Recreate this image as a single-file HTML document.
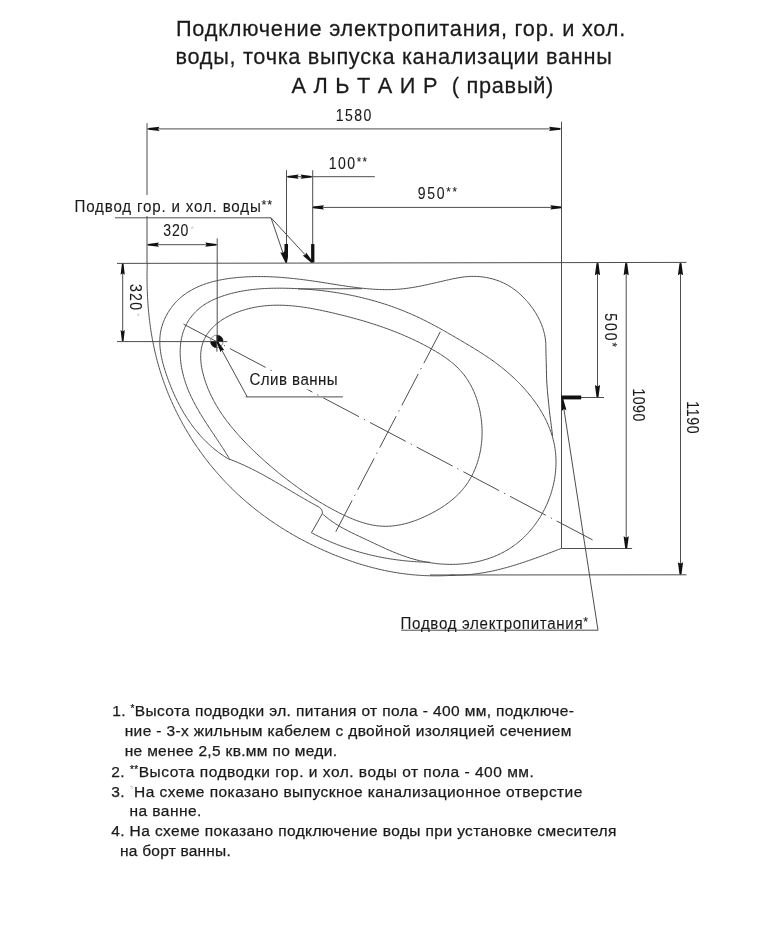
<!DOCTYPE html><html><head><meta charset="utf-8"><style>html,body{margin:0;padding:0;background:#fff;}svg{display:block;will-change:transform;}text{font-family:"Liberation Sans",sans-serif;stroke:#1a1a1a;stroke-width:0.25px;}</style></head><body>
<svg width="772" height="950" viewBox="0 0 772 950">
<rect width="772" height="950" fill="#fff"/>
<text id="t1" x="0" y="0" font-size="22.9" fill="#1a1a1a" textLength="472.98" lengthAdjust="spacing" transform="translate(175.90,35.90) scale(0.95,1)">Подключение электропитания, гор. и хол.</text>
<text id="t2" x="0" y="0" font-size="22.9" fill="#1a1a1a" textLength="459.25" lengthAdjust="spacing" transform="translate(175.50,64.40) scale(0.95,1)">воды, точка выпуска канализации ванны</text>
<text id="t3" x="0" y="0" font-size="22.9" fill="#1a1a1a" textLength="275.53" lengthAdjust="spacing" transform="translate(291.60,92.50) scale(0.95,1)">А Л Ь Т А И Р &#160;( правый)</text>
<line x1="147" y1="123.2" x2="147" y2="195" stroke="#4d4d4d" stroke-width="1" />
<line x1="147" y1="216" x2="147" y2="263" stroke="#4d4d4d" stroke-width="1" />
<line x1="561.5" y1="121.7" x2="561.5" y2="548.5" stroke="#4d4d4d" stroke-width="1" />
<line x1="147" y1="128.9" x2="561.5" y2="128.9" stroke="#4d4d4d" stroke-width="1" />
<polygon points="148.50,128.10 159.50,126.80 158.00,128.90 159.50,131.00 148.50,129.70" fill="#111"/>
<polygon points="560.00,129.70 549.00,131.00 550.50,128.90 549.00,126.80 560.00,128.10" fill="#111"/>
<text id="d1580" style="stroke-width:0.1px" x="0" y="0" font-size="16" fill="#1a1a1a" textLength="40.48" lengthAdjust="spacing" transform="translate(335.80,121.00) scale(0.88,1)">1580</text>
<line x1="286.5" y1="170.2" x2="286.5" y2="263" stroke="#4d4d4d" stroke-width="1" />
<line x1="312.7" y1="170.2" x2="312.7" y2="263" stroke="#4d4d4d" stroke-width="1" />
<line x1="286.5" y1="176.7" x2="374.8" y2="176.7" stroke="#4d4d4d" stroke-width="1" />
<polygon points="287.70,175.90 298.70,174.60 297.20,176.70 298.70,178.80 287.70,177.50" fill="#111"/>
<polygon points="311.50,177.50 300.50,178.80 302.00,176.70 300.50,174.60 311.50,175.90" fill="#111"/>
<text id="d100" style="stroke-width:0.1px" x="0" y="0" font-size="16" fill="#1a1a1a" textLength="43.55" lengthAdjust="spacing" transform="translate(328.70,169.00) scale(0.88,1)">100<tspan font-size='13' dy='-3'>**</tspan></text>
<line x1="312.7" y1="207.4" x2="561.5" y2="207.4" stroke="#4d4d4d" stroke-width="1" />
<polygon points="313.00,206.60 324.00,205.30 322.50,207.40 324.00,209.50 313.00,208.20" fill="#111"/>
<polygon points="561.20,208.20 550.20,209.50 551.70,207.40 550.20,205.30 561.20,206.60" fill="#111"/>
<text id="d950" style="stroke-width:0.1px" x="0" y="0" font-size="16" fill="#1a1a1a" textLength="44.46" lengthAdjust="spacing" transform="translate(417.80,199.00) scale(0.88,1)">950<tspan font-size='13' dy='-3'>**</tspan></text>
<polygon points="284.5,244.1 288,244.1 288,257 287,262.5 285.8,262.5 284.5,256" fill="#111"/>
<rect x="311.1" y="244.1" width="3.3" height="18.2" fill="#111"/>
<text id="podvod" style="stroke-width:0.1px" x="0" y="0" font-size="15.6" fill="#1a1a1a" textLength="203.81" lengthAdjust="spacing" transform="translate(74.50,212.40) scale(0.97,1)">Подвод гор. и хол. воды<tspan font-size='13' dy='-3'>**</tspan></text>
<line x1="115" y1="217.8" x2="271" y2="217.8" stroke="#4d4d4d" stroke-width="1" />
<line x1="271" y1="217.8" x2="286.2" y2="262.4" stroke="#4d4d4d" stroke-width="1" />
<line x1="271" y1="217.8" x2="312.2" y2="262.4" stroke="#4d4d4d" stroke-width="1" />
<polygon points="285.44,262.66 280.31,252.26 282.97,252.93 284.67,250.77 286.96,262.14" fill="#111"/>
<polygon points="311.61,262.94 302.71,255.51 305.41,255.05 306.09,252.39 312.79,261.86" fill="#111"/>
<line x1="217.2" y1="238.3" x2="217.2" y2="342" stroke="#4d4d4d" stroke-width="1" />
<line x1="147" y1="244.7" x2="217.2" y2="244.7" stroke="#4d4d4d" stroke-width="1" />
<polygon points="148.00,243.90 159.00,242.60 157.50,244.70 159.00,246.80 148.00,245.50" fill="#111"/>
<polygon points="216.20,245.50 205.20,246.80 206.70,244.70 205.20,242.60 216.20,243.90" fill="#111"/>
<text id="d320h" style="stroke-width:0.1px" x="0" y="0" font-size="16" fill="#1a1a1a" textLength="28.43" lengthAdjust="spacing" transform="translate(163.30,236.30) scale(0.88,1)">320</text>
<text x="190.5" y="231.5" font-size="9" fill="#cfcfcf" style="stroke:none">*</text>
<line x1="117" y1="263.4" x2="686.5" y2="262.4" stroke="#4d4d4d" stroke-width="1" />
<line x1="117" y1="341.6" x2="227.2" y2="341.6" stroke="#4d4d4d" stroke-width="1" />
<line x1="122.7" y1="263.3" x2="122.7" y2="341.6" stroke="#4d4d4d" stroke-width="1" />
<polygon points="123.50,263.80 124.80,274.80 122.70,273.30 120.60,274.80 121.90,263.80" fill="#111"/>
<polygon points="121.90,341.10 120.60,330.10 122.70,331.60 124.80,330.10 123.50,341.10" fill="#111"/>
<text id="d320v" style="stroke-width:0.1px" x="0" y="0" font-size="16" fill="#1a1a1a" textLength="29.56" lengthAdjust="spacing" transform="translate(130.30,284.00) rotate(90) scale(0.88,1)">320</text>
<text x="0" y="0" font-size="9" fill="#cfcfcf" style="stroke:none" transform="translate(134,313) rotate(90)">*</text>
<line x1="561.5" y1="397.5" x2="604" y2="397.5" stroke="#4d4d4d" stroke-width="1" />
<line x1="597.5" y1="262.5" x2="597.5" y2="397.5" stroke="#4d4d4d" stroke-width="1" />
<polygon points="598.50,263.30 600.10,275.30 597.50,273.80 594.90,275.30 596.50,263.30" fill="#111"/>
<polygon points="596.50,397.00 594.90,385.00 597.50,386.50 600.10,385.00 598.50,397.00" fill="#111"/>
<text id="d500" style="stroke-width:0.1px" x="0" y="0" font-size="16" fill="#1a1a1a" textLength="38.38" lengthAdjust="spacing" transform="translate(605.30,313.30) rotate(90) scale(0.88,1)">500<tspan font-size='13' dy='-3'>*</tspan></text>
<line x1="561.5" y1="548.5" x2="632.1" y2="548.5" stroke="#4d4d4d" stroke-width="1" />
<line x1="626.2" y1="262.5" x2="626.2" y2="548.5" stroke="#4d4d4d" stroke-width="1" />
<polygon points="627.20,263.30 628.80,275.30 626.20,273.80 623.60,275.30 625.20,263.30" fill="#111"/>
<polygon points="625.20,548.30 623.60,536.30 626.20,537.80 628.80,536.30 627.20,548.30" fill="#111"/>
<text id="d1090" style="stroke-width:0.1px" x="0" y="0" font-size="16" fill="#1a1a1a" textLength="37.30" lengthAdjust="spacing" transform="translate(632.70,388.40) rotate(90) scale(0.88,1)">1090</text>
<line x1="430" y1="575" x2="686.5" y2="574.8" stroke="#4d4d4d" stroke-width="1" />
<line x1="680.5" y1="262.5" x2="680.5" y2="574.8" stroke="#4d4d4d" stroke-width="1" />
<polygon points="681.50,263.30 683.10,275.30 680.50,273.80 677.90,275.30 679.50,263.30" fill="#111"/>
<polygon points="679.50,574.30 677.90,562.30 680.50,563.80 683.10,562.30 681.50,574.30" fill="#111"/>
<text id="d1190" style="stroke-width:0.1px" x="0" y="0" font-size="16" fill="#1a1a1a" textLength="36.94" lengthAdjust="spacing" transform="translate(687.20,401.20) rotate(90) scale(0.88,1)">1190</text>
<rect x="561.2" y="395.5" width="20" height="3.9" fill="#111"/>
<line x1="562.3" y1="398.7" x2="598" y2="630.2" stroke="#4d4d4d" stroke-width="1" />
<polygon points="563.09,398.58 566.50,410.19 563.90,409.08 561.76,410.93 561.51,398.82" fill="#111"/>
<line x1="401" y1="630.2" x2="598" y2="630.2" stroke="#4d4d4d" stroke-width="1" />
<text id="elec" style="stroke-width:0.1px" x="0" y="0" font-size="15.6" fill="#1a1a1a" textLength="193.43" lengthAdjust="spacing" transform="translate(400.60,629.40) scale(0.97,1)">Подвод электропитания<tspan font-size='13' dy='-3'>*</tspan></text>
<path d="M147.27,263.06 L147.22,264.56 L147.18,266.05 L147.14,267.55 L147.11,269.04 L147.08,270.54 L147.06,272.04 L147.04,273.54 L147.03,275.04 L147.03,276.54 L147.03,278.04 L147.03,279.54 L147.05,281.05 L147.06,282.55 L147.09,284.06 L147.12,285.56 L147.15,287.07 L147.19,288.58 L147.24,290.08 L147.29,291.59 L147.35,293.10 L147.42,294.60 L147.49,296.11 L147.57,297.62 L147.65,299.13 L147.74,300.64 L147.84,302.14 L147.94,303.65 L148.05,305.16 L148.17,306.66 L148.29,308.17 L148.42,309.68 L148.56,311.18 L148.70,312.69 L148.85,314.19 L149.00,315.70 L149.17,317.20 L149.34,318.71 L149.51,320.21 L149.70,321.71 L149.89,323.21 L150.09,324.71 L150.29,326.21 L150.50,327.71 L150.72,329.20 L150.95,330.70 L151.18,332.19 L151.42,333.69 L151.67,335.18 L151.93,336.67 L152.19,338.16 L152.46,339.64 L152.74,341.13 L153.03,342.62 L153.32,344.10 L153.62,345.58 L153.93,347.06 L154.25,348.53 L154.58,350.01 L154.91,351.48 L155.25,352.95 L155.60,354.42 L155.96,355.89 L156.32,357.36 L156.70,358.82 L157.08,360.28 L157.47,361.74 L157.86,363.19 L158.27,364.65 L158.68,366.10 L159.11,367.55 L159.54,368.99 L159.97,370.44 L160.42,371.88 L160.87,373.32 L161.34,374.75 L161.81,376.19 L162.28,377.62 L162.77,379.04 L163.26,380.47 L163.76,381.89 L164.27,383.31 L164.79,384.73 L165.31,386.14 L165.85,387.55 L166.39,388.96 L166.93,390.36 L167.49,391.77 L168.05,393.16 L168.62,394.56 L169.20,395.95 L169.78,397.34 L170.38,398.73 L170.98,400.11 L171.58,401.49 L172.20,402.86 L172.82,404.24 L173.45,405.61 L174.09,406.97 L174.73,408.34 L175.39,409.69 L176.04,411.05 L176.71,412.40 L177.38,413.75 L178.07,415.10 L178.75,416.44 L179.45,417.77 L180.15,419.11 L180.86,420.44 L181.58,421.76 L182.30,423.09 L183.03,424.40 L183.77,425.72 L184.51,427.03 L185.26,428.34 L186.02,429.64 L186.79,430.94 L187.56,432.23 L188.34,433.52 L189.12,434.81 L189.92,436.09 L190.72,437.37 L191.52,438.64 L192.34,439.91 L193.16,441.18 L193.98,442.44 L194.81,443.69 L195.65,444.95 L196.50,446.19 L197.35,447.44 L198.21,448.68 L199.08,449.91 L199.95,451.14 L200.83,452.36 L201.71,453.58 L202.61,454.80 L203.50,456.01 L204.41,457.22 L205.32,458.42 L206.24,459.61 L207.16,460.81 L208.09,461.99 L209.02,463.17 L209.97,464.35 L210.92,465.52 L211.87,466.69 L212.83,467.85 L213.80,469.01 L214.77,470.16 L215.75,471.30 L216.73,472.45 L217.72,473.58 L218.72,474.71 L219.72,475.84 L220.73,476.96 L221.75,478.07 L222.77,479.18 L223.80,480.28 L224.83,481.38 L225.87,482.47 L226.91,483.56 L227.96,484.64 L229.02,485.72 L230.08,486.79 L231.15,487.85 L232.22,488.91 L233.30,489.97 L234.38,491.01 L235.47,492.05 L236.57,493.09 L237.67,494.12 L238.77,495.14 L239.88,496.16 L241.00,497.17 L242.12,498.18 L243.25,499.18 L244.38,500.18 L245.52,501.16 L246.67,502.15 L247.81,503.12 L248.97,504.10 L250.13,505.06 L251.29,506.02 L252.46,506.97 L253.63,507.92 L254.81,508.86 L256.00,509.80 L257.18,510.73 L258.38,511.65 L259.57,512.57 L260.78,513.48 L261.98,514.38 L263.20,515.28 L264.41,516.18 L265.63,517.07 L266.86,517.95 L268.09,518.82 L269.32,519.69 L270.56,520.56 L271.80,521.41 L273.05,522.27 L274.30,523.11 L275.55,523.95 L276.81,524.78 L278.08,525.61 L279.35,526.43 L280.62,527.25 L281.89,528.06 L283.17,528.86 L284.45,529.66 L285.74,530.45 L287.03,531.24 L288.33,532.01 L289.63,532.79 L290.93,533.55 L292.23,534.32 L293.54,535.07 L294.86,535.82 L296.17,536.56 L297.49,537.30 L298.81,538.03 L300.14,538.75 L301.47,539.47 L302.80,540.18 L304.14,540.89 L305.48,541.59 L306.82,542.28 L308.17,542.97 L309.52,543.65 L310.87,544.32 L312.22,544.99 L313.58,545.65 L314.94,546.31 L316.31,546.96 L317.67,547.60 L319.04,548.24 L320.41,548.87 L321.79,549.50 L323.16,550.12 L324.54,550.73 L325.93,551.34 L327.31,551.94 L328.70,552.53 L330.09,553.12 L331.48,553.70 L332.88,554.28 L334.27,554.84 L335.67,555.41 L337.07,555.96 L338.48,556.51 L339.88,557.06 L341.29,557.60 L342.70,558.13 L344.11,558.65 L345.52,559.17 L346.94,559.68 L348.36,560.19 L349.78,560.68 L351.20,561.18 L352.63,561.66 L354.05,562.14 L355.48,562.61 L356.91,563.07 L358.34,563.53 L359.78,563.98 L361.21,564.42 L362.65,564.85 L364.09,565.28 L365.53,565.70 L366.98,566.11 L368.42,566.52 L369.87,566.91 L371.32,567.30 L372.77,567.68 L374.23,568.06 L375.68,568.42 L377.14,568.78 L378.60,569.13 L380.06,569.47 L381.52,569.80 L382.99,570.12 L384.46,570.44 L385.93,570.75 L387.40,571.05 L388.87,571.34 L390.34,571.62 L391.82,571.89 L393.30,572.15 L394.78,572.41 L396.26,572.65 L397.74,572.89 L399.23,573.12 L400.71,573.33 L402.20,573.54 L403.69,573.74 L405.18,573.93 L406.68,574.12 L408.17,574.29 L409.67,574.45 L411.16,574.61 L412.66,574.75 L414.16,574.89 L415.67,575.01 L417.17,575.13 L418.67,575.24 L420.18,575.34 L421.69,575.43 L423.20,575.51 L424.70,575.58 L426.21,575.65 L427.73,575.70 L429.24,575.75 L430.75,575.78 L432.27,575.81 L433.78,575.83 L435.30,575.83 L436.82,575.83 L438.33,575.82 L439.85,575.80 L441.37,575.78 L442.89,575.74 L444.41,575.69 L445.93,575.64 L447.45,575.57 L448.98,575.50 L450.50,575.41 L452.02,575.32 L453.55,575.22 L455.07,575.11" fill="none" stroke="#4d4d4d" stroke-width="1" stroke-linejoin="round"/>
<path d="M561.48,548.38 L560.05,548.92 L558.62,549.47 L557.19,550.02 L555.76,550.57 L554.32,551.12 L552.89,551.67 L551.45,552.22 L550.02,552.77 L548.58,553.32 L547.14,553.86 L545.70,554.41 L544.26,554.95 L542.81,555.49 L541.37,556.03 L539.92,556.56 L538.48,557.09 L537.03,557.62 L535.58,558.15 L534.12,558.67 L532.67,559.19 L531.21,559.70 L529.76,560.21 L528.30,560.72 L526.84,561.22 L525.38,561.72 L523.92,562.21 L522.45,562.69 L520.99,563.17 L519.52,563.65 L518.05,564.12 L516.58,564.58 L515.10,565.04 L513.63,565.48 L512.15,565.93 L510.68,566.36 L509.20,566.79 L507.72,567.21 L506.23,567.62 L504.75,568.02 L503.26,568.42 L501.77,568.80 L500.28,569.18 L498.79,569.55 L497.29,569.91 L495.80,570.26 L494.30,570.60 L492.80,570.93 L491.30,571.25 L489.80,571.56 L488.29,571.85 L486.78,572.14 L485.27,572.42 L483.76,572.68 L482.25,572.93 L480.73,573.17 L479.21,573.40 L477.69,573.62 L476.17,573.82 L474.65,574.01 L473.12,574.19 L471.59,574.36 L470.06,574.51 L468.53,574.64 L466.99,574.77 L465.46,574.87 L463.92,574.97 L462.38,575.05 L460.83,575.11 L459.29,575.16 L457.74,575.20 L456.19,575.21 L454.63,575.22 L453.08,575.20 L451.52,575.17 L449.96,575.13" fill="none" stroke="#4d4d4d" stroke-width="1" stroke-linejoin="round"/>
<path d="M229.92,459.80 L228.60,459.03 L227.30,458.25 L226.01,457.45 L224.73,456.64 L223.47,455.81 L222.22,454.97 L220.99,454.11 L219.76,453.23 L218.56,452.34 L217.36,451.44 L216.18,450.52 L215.01,449.59 L213.85,448.65 L212.71,447.69 L211.58,446.72 L210.46,445.73 L209.36,444.73 L208.27,443.72 L207.19,442.70 L206.12,441.66 L205.07,440.61 L204.03,439.55 L203.00,438.48 L201.98,437.39 L200.98,436.29 L199.99,435.19 L199.01,434.07 L198.04,432.93 L197.08,431.79 L196.14,430.64 L195.21,429.48 L194.29,428.30 L193.38,427.12 L192.48,425.93 L191.60,424.72 L190.72,423.51 L189.86,422.28 L189.01,421.05 L188.17,419.81 L187.35,418.56 L186.53,417.30 L185.73,416.03 L184.93,414.76 L184.15,413.47 L183.38,412.18 L182.62,410.88 L181.87,409.57 L181.13,408.25 L180.40,406.93 L179.68,405.60 L178.97,404.26 L178.28,402.92 L177.59,401.56 L176.92,400.21 L176.25,398.84 L175.60,397.47 L174.95,396.10 L174.32,394.72 L173.69,393.33 L173.08,391.94 L172.47,390.54 L171.88,389.13 L171.29,387.73 L170.72,386.31 L170.15,384.90 L169.60,383.48 L169.05,382.05 L168.52,380.62 L167.99,379.19 L167.47,377.75 L166.97,376.31 L166.47,374.87 L165.98,373.42 L165.50,371.97 L165.03,370.52 L164.58,369.07 L164.13,367.61 L163.71,366.15 L163.30,364.69 L162.90,363.23 L162.53,361.76 L162.17,360.30 L161.84,358.83 L161.52,357.36 L161.23,355.89 L160.96,354.42 L160.72,352.95 L160.50,351.48 L160.31,350.01 L160.15,348.54 L160.01,347.07 L159.91,345.60 L159.84,344.13 L159.80,342.67 L159.79,341.20 L159.82,339.73 L159.89,338.27 L159.99,336.80 L160.13,335.34 L160.31,333.88 L160.53,332.42 L160.80,330.97 L161.10,329.51 L161.45,328.06 L161.84,326.61 L162.28,325.17 L162.76,323.73 L163.28,322.30 L163.85,320.87 L164.45,319.46 L165.09,318.06 L165.77,316.67 L166.48,315.30 L167.23,313.94 L168.02,312.60 L168.83,311.29 L169.68,309.99 L170.55,308.72 L171.46,307.47 L172.39,306.25 L173.34,305.06 L174.32,303.90 L175.33,302.76 L176.36,301.66 L177.41,300.60 L178.48,299.56 L179.57,298.55 L180.68,297.57 L181.81,296.62 L182.97,295.70 L184.14,294.80 L185.33,293.94 L186.54,293.10 L187.76,292.29 L189.01,291.51 L190.27,290.75 L191.54,290.02 L192.84,289.31 L194.14,288.63 L195.46,287.97 L196.80,287.33 L198.15,286.72 L199.51,286.13 L200.88,285.57 L202.27,285.03 L203.67,284.50 L205.08,284.00 L206.50,283.52 L207.93,283.06 L209.37,282.63 L210.81,282.21 L212.27,281.81 L213.73,281.42 L215.21,281.06 L216.69,280.71 L218.17,280.39 L219.66,280.08 L221.16,279.78 L222.66,279.50 L224.17,279.24 L225.67,278.99 L227.19,278.76 L228.70,278.54 L230.22,278.33 L231.74,278.14 L233.26,277.96 L234.79,277.80 L236.31,277.64 L237.83,277.50 L239.35,277.37 L240.87,277.25 L242.39,277.14 L243.91,277.04 L245.42,276.95 L246.94,276.87 L248.45,276.80 L249.96,276.74 L251.47,276.69 L252.98,276.64 L254.48,276.61 L255.99,276.59 L257.49,276.57 L258.99,276.57 L260.49,276.57 L261.99,276.58 L263.49,276.60 L264.99,276.63 L266.48,276.66 L267.98,276.71 L269.47,276.76 L270.96,276.82 L272.46,276.88 L273.95,276.96 L275.44,277.04 L276.93,277.13 L278.42,277.22 L279.91,277.32 L281.39,277.43 L282.88,277.55 L284.37,277.67 L285.86,277.79 L287.34,277.93 L288.83,278.06 L290.31,278.21 L291.80,278.36 L293.28,278.51 L294.77,278.68 L296.25,278.84 L297.74,279.01 L299.22,279.19 L300.71,279.37 L302.19,279.55 L303.67,279.74 L305.16,279.94 L306.64,280.13 L308.13,280.34 L309.62,280.54 L311.10,280.75 L312.59,280.96 L314.07,281.18 L315.56,281.40 L317.05,281.62 L318.54,281.85 L320.03,282.08 L321.52,282.31 L323.01,282.54 L324.50,282.78 L325.99,283.01 L327.48,283.25 L328.97,283.48 L330.46,283.72 L331.96,283.96 L333.45,284.20 L334.94,284.43 L336.44,284.67 L337.93,284.90 L339.43,285.13 L340.92,285.36 L342.42,285.59 L343.91,285.82 L345.41,286.04 L346.90,286.26 L348.40,286.47 L349.89,286.68 L351.39,286.89 L352.89,287.09 L354.38,287.29 L355.88,287.48 L357.37,287.66 L358.87,287.84 L360.37,288.02 L361.86,288.18 L363.36,288.34 L364.85,288.49 L366.35,288.64 L367.85,288.77 L369.34,288.90 L370.84,289.02 L372.33,289.13 L373.83,289.23 L375.32,289.32 L376.82,289.40 L378.31,289.47 L379.81,289.53 L381.30,289.58 L382.80,289.61 L384.29,289.64 L385.78,289.65 L387.27,289.65 L388.77,289.64 L390.26,289.61 L391.75,289.57 L393.24,289.52 L394.73,289.45 L396.22,289.37 L397.71,289.27 L399.20,289.16 L400.69,289.03 L402.17,288.89 L403.66,288.73 L405.15,288.56 L406.63,288.37 L408.12,288.17 L409.60,287.96 L411.09,287.73 L412.57,287.50 L414.06,287.25 L415.54,286.99 L417.02,286.72 L418.51,286.44 L419.99,286.15 L421.47,285.86 L422.95,285.55 L424.43,285.25 L425.91,284.93 L427.40,284.61 L428.88,284.28 L430.36,283.95 L431.84,283.62 L433.32,283.28 L434.80,282.94 L436.28,282.60 L437.76,282.26 L439.24,281.91 L440.72,281.57 L442.20,281.22 L443.68,280.88 L445.16,280.54 L446.64,280.21 L448.12,279.87 L449.60,279.54 L451.08,279.22 L452.56,278.90 L454.04,278.59 L455.53,278.30 L457.01,278.02 L458.49,277.75 L459.98,277.50 L461.46,277.28 L462.95,277.07 L464.44,276.89 L465.92,276.73 L467.41,276.61 L468.90,276.51 L470.40,276.44 L471.89,276.39 L473.38,276.38 L474.87,276.40 L476.35,276.44 L477.84,276.52 L479.32,276.62 L480.80,276.76 L482.27,276.92 L483.74,277.11 L485.21,277.34 L486.67,277.59 L488.12,277.87 L489.57,278.19 L491.01,278.53 L492.44,278.90 L493.86,279.31 L495.28,279.74 L496.68,280.21 L498.08,280.71 L499.46,281.23 L500.84,281.79 L502.20,282.38 L503.55,283.01 L504.89,283.66 L506.21,284.34 L507.52,285.06 L508.82,285.81 L510.10,286.59 L511.36,287.40 L512.61,288.24 L513.85,289.11 L515.06,290.01 L516.26,290.93 L517.45,291.88 L518.61,292.86 L519.76,293.87 L520.89,294.89 L522.00,295.94 L523.10,297.01 L524.17,298.11 L525.23,299.22 L526.26,300.35 L527.27,301.51 L528.27,302.68 L529.24,303.86 L530.19,305.06 L531.12,306.28 L532.03,307.51 L532.91,308.76 L533.77,310.01 L534.61,311.28 L535.43,312.57 L536.21,313.86 L536.98,315.17 L537.71,316.49 L538.42,317.82 L539.10,319.16 L539.76,320.51 L540.38,321.87 L540.98,323.24 L541.54,324.63 L542.08,326.02 L542.58,327.42 L543.05,328.84 L543.48,330.26 L543.89,331.69 L544.25,333.13 L544.59,334.58 L544.89,336.04 L545.15,337.50 L545.37,338.97 L545.56,340.45 L545.71,341.94 L545.81,343.44 L545.88,344.94" fill="none" stroke="#4d4d4d" stroke-width="1" stroke-linejoin="round"/>
<path d="M545.8,345.0 C545.9,348.3 546.1,358.5 546.3,365.0 C546.5,371.5 546.4,376.5 546.9,384.1 C547.4,391.7 548.7,403.8 549.4,410.7 C550.1,417.6 550.8,421.3 551.3,425.5 C551.8,429.7 552.4,434.2 552.6,436.0" fill="none" stroke="#4d4d4d" stroke-width="1" />
<path d="M229.45,458.83 L228.68,457.54 L227.91,456.25 L227.13,454.97 L226.34,453.70 L225.55,452.43 L224.74,451.15 L223.94,449.89 L223.13,448.62 L222.31,447.36 L221.49,446.10 L220.67,444.84 L219.84,443.58 L219.01,442.32 L218.18,441.07 L217.34,439.81 L216.51,438.56 L215.67,437.31 L214.83,436.06 L213.99,434.80 L213.15,433.55 L212.31,432.30 L211.48,431.04 L210.64,429.79 L209.81,428.53 L208.98,427.28 L208.15,426.02 L207.32,424.76 L206.50,423.50 L205.69,422.23 L204.87,420.97 L204.07,419.70 L203.27,418.43 L202.47,417.15 L201.68,415.87 L200.90,414.59 L200.12,413.31 L199.35,412.02 L198.60,410.73 L197.85,409.43 L197.10,408.13 L196.37,406.82 L195.65,405.51 L194.94,404.20 L194.24,402.87 L193.55,401.55 L192.87,400.21 L192.21,398.88 L191.55,397.53 L190.92,396.18 L190.29,394.82 L189.68,393.46 L189.08,392.08 L188.50,390.70 L187.93,389.32 L187.38,387.92 L186.85,386.52 L186.33,385.11 L185.83,383.69 L185.34,382.26 L184.88,380.83 L184.43,379.38 L184.00,377.93 L183.60,376.46 L183.21,374.99 L182.84,373.50 L182.49,372.01 L182.17,370.51 L181.86,369.01 L181.58,367.49 L181.33,365.98 L181.09,364.45 L180.89,362.93 L180.70,361.40 L180.55,359.87 L180.42,358.34 L180.31,356.80 L180.24,355.27 L180.19,353.74 L180.18,352.22 L180.19,350.69 L180.23,349.17 L180.30,347.65 L180.41,346.14 L180.55,344.64 L180.72,343.14 L180.92,341.65 L181.16,340.17 L181.43,338.70 L181.74,337.24 L182.08,335.80 L182.46,334.36 L182.88,332.94 L183.34,331.53 L183.83,330.13 L184.36,328.75 L184.94,327.39 L185.55,326.04 L186.20,324.72 L186.89,323.41 L187.62,322.12 L188.39,320.85 L189.20,319.61 L190.04,318.38 L190.91,317.18 L191.82,316.01 L192.76,314.86 L193.74,313.74 L194.74,312.65 L195.78,311.59 L196.85,310.55 L197.95,309.55 L199.08,308.58 L200.23,307.64 L201.41,306.73 L202.62,305.86 L203.85,305.01 L205.10,304.20 L206.37,303.41 L207.67,302.66 L208.98,301.93 L210.31,301.22 L211.66,300.54 L213.03,299.89 L214.41,299.27 L215.80,298.66 L217.20,298.08 L218.61,297.52 L220.04,296.99 L221.47,296.47 L222.90,295.98 L224.35,295.50 L225.79,295.04 L227.24,294.60 L228.70,294.18 L230.16,293.78 L231.62,293.39 L233.08,293.02 L234.55,292.66 L236.01,292.33 L237.49,292.00 L238.96,291.70 L240.44,291.41 L241.92,291.13 L243.40,290.87 L244.88,290.62 L246.37,290.39 L247.86,290.17 L249.35,289.96 L250.84,289.77 L252.33,289.59 L253.83,289.42 L255.33,289.27 L256.83,289.12 L258.33,288.99 L259.83,288.87 L261.33,288.76 L262.84,288.66 L264.34,288.57 L265.85,288.49 L267.35,288.43 L268.86,288.37 L270.37,288.32 L271.88,288.27 L273.39,288.24 L274.90,288.22 L276.41,288.20 L277.92,288.19 L279.43,288.19 L280.94,288.20 L282.45,288.21 L283.96,288.23 L285.47,288.25 L286.98,288.28 L288.49,288.32 L290.00,288.36 L291.51,288.41 L293.01,288.46 L294.52,288.52 L296.03,288.58 L297.54,288.65 L299.04,288.73 L300.55,288.81 L302.05,288.90 L303.56,289.00 L305.06,289.10 L306.56,289.20 L308.06,289.31 L309.56,289.43 L311.06,289.56 L312.56,289.69 L314.06,289.82 L315.56,289.97 L317.06,290.12 L318.55,290.27 L320.05,290.43 L321.54,290.60 L323.03,290.77 L324.53,290.95 L326.02,291.14 L327.51,291.33 L329.00,291.53 L330.48,291.73 L331.97,291.94 L333.46,292.16 L334.94,292.39 L336.42,292.62 L337.90,292.85 L339.38,293.10 L340.86,293.35 L342.34,293.61 L343.82,293.87 L345.29,294.14 L346.77,294.42 L348.24,294.70 L349.71,294.99 L351.18,295.28 L352.64,295.59 L354.11,295.90 L355.58,296.21 L357.04,296.54 L358.50,296.87 L359.96,297.21 L361.42,297.55 L362.87,297.90 L364.33,298.26 L365.78,298.62 L367.23,299.00 L368.68,299.37 L370.13,299.76 L371.57,300.15 L373.02,300.55 L374.46,300.96 L375.90,301.37 L377.34,301.80 L378.77,302.22 L380.20,302.66 L381.64,303.10 L383.07,303.55 L384.49,304.01 L385.92,304.47 L387.34,304.95 L388.76,305.43 L390.18,305.91 L391.60,306.41 L393.01,306.91 L394.43,307.42 L395.84,307.93 L397.24,308.46 L398.65,308.99 L400.05,309.53 L401.45,310.07 L402.85,310.63 L404.24,311.19 L405.64,311.76 L407.03,312.33 L408.42,312.92 L409.80,313.51 L411.18,314.11 L412.56,314.72 L413.94,315.33 L415.32,315.95 L416.69,316.59 L418.06,317.22 L419.43,317.87 L420.79,318.52 L422.15,319.18 L423.51,319.85 L424.87,320.53 L426.22,321.21 L427.57,321.89 L428.92,322.59 L430.26,323.28 L431.61,323.99 L432.95,324.70 L434.28,325.41 L435.62,326.13 L436.95,326.85 L438.28,327.58 L439.61,328.31 L440.93,329.04 L442.26,329.78 L443.58,330.52 L444.90,331.27 L446.21,332.01 L447.52,332.76 L448.83,333.52 L450.14,334.27 L451.45,335.02 L452.75,335.78 L454.05,336.54 L455.35,337.30 L456.64,338.06 L457.94,338.82 L459.23,339.58 L460.52,340.34 L461.80,341.10 L463.09,341.86 L464.37,342.62 L465.65,343.38 L466.93,344.14 L468.20,344.90 L469.47,345.67 L470.74,346.43 L472.01,347.20 L473.27,347.96 L474.53,348.74 L475.79,349.51 L477.05,350.29 L478.30,351.07 L479.55,351.86 L480.80,352.65 L482.04,353.45 L483.29,354.25 L484.52,355.06 L485.76,355.88 L486.99,356.70 L488.22,357.54 L489.45,358.38 L490.67,359.22 L491.89,360.08 L493.10,360.95 L494.31,361.82 L495.52,362.71 L496.73,363.60 L497.93,364.51 L499.12,365.43 L500.32,366.36 L501.50,367.29 L502.69,368.24 L503.86,369.20 L505.04,370.17 L506.20,371.15 L507.36,372.14 L508.52,373.13 L509.66,374.14 L510.80,375.16 L511.93,376.19 L513.06,377.22 L514.18,378.27 L515.28,379.33 L516.38,380.39 L517.48,381.47 L518.56,382.55 L519.63,383.64 L520.70,384.74 L521.75,385.86 L522.79,386.98 L523.82,388.10 L524.85,389.24 L525.86,390.39 L526.86,391.54 L527.85,392.71 L528.82,393.88 L529.79,395.06 L530.74,396.25 L531.68,397.44 L532.60,398.65 L533.51,399.86 L534.41,401.08 L535.29,402.31 L536.16,403.55 L537.02,404.79 L537.86,406.04 L538.69,407.30 L539.50,408.57 L540.29,409.84 L541.07,411.13 L541.83,412.42 L542.58,413.71 L543.30,415.02 L544.02,416.33 L544.71,417.65 L545.39,418.97 L546.04,420.30 L546.68,421.64 L547.30,422.99 L547.91,424.34 L548.49,425.70 L549.05,427.07 L549.60,428.44 L550.12,429.82 L550.62,431.20 L551.10,432.59 L551.57,433.99 L552.01,435.40 L552.43,436.80 L552.82,438.22 L553.20,439.64 L553.55,441.07 L553.88,442.50 L554.19,443.94 L554.47,445.38 L554.73,446.83 L554.97,448.29 L555.18,449.75 L555.36,451.21 L555.53,452.69 L555.67,454.16 L555.78,455.64 L555.87,457.12 L555.94,458.61 L555.98,460.10 L556.00,461.59 L556.00,463.08 L555.97,464.58 L555.92,466.08 L555.85,467.58 L555.76,469.08 L555.64,470.58 L555.50,472.07 L555.33,473.57 L555.14,475.07 L554.94,476.57 L554.70,478.07 L554.45,479.56 L554.18,481.05 L553.88,482.54 L553.56,484.03 L553.22,485.51 L552.86,486.99 L552.47,488.46 L552.07,489.93 L551.64,491.39 L551.19,492.85 L550.73,494.31 L550.24,495.76 L549.73,497.20 L549.20,498.63 L548.65,500.06 L548.08,501.48 L547.49,502.89 L546.88,504.29 L546.24,505.69 L545.59,507.07 L544.92,508.45 L544.23,509.81 L543.52,511.17 L542.80,512.51 L542.05,513.85 L541.28,515.17 L540.50,516.48 L539.70,517.78 L538.88,519.07 L538.04,520.34 L537.18,521.61 L536.31,522.85 L535.42,524.09 L534.51,525.31 L533.59,526.52 L532.64,527.71 L531.69,528.89 L530.71,530.05 L529.72,531.19 L528.72,532.32 L527.69,533.44 L526.66,534.53 L525.60,535.61 L524.54,536.68 L523.45,537.72 L522.36,538.75 L521.25,539.75 L520.12,540.74 L518.98,541.71 L517.83,542.66 L516.66,543.59 L515.48,544.50 L514.28,545.39 L513.08,546.26 L511.85,547.11 L510.62,547.94 L509.38,548.74 L508.12,549.52 L506.85,550.28 L505.57,551.03 L504.27,551.74 L502.97,552.44 L501.66,553.12 L500.33,553.78 L499.00,554.41 L497.65,555.03 L496.30,555.62 L494.93,556.19 L493.56,556.75 L492.18,557.28 L490.79,557.79 L489.39,558.29 L487.98,558.76 L486.57,559.21 L485.14,559.64 L483.71,560.06 L482.28,560.45 L480.83,560.83 L479.39,561.18 L477.93,561.52 L476.47,561.83 L475.00,562.13 L473.53,562.41 L472.05,562.67 L470.57,562.91 L469.09,563.13 L467.60,563.34 L466.10,563.52 L464.61,563.69 L463.11,563.84 L461.60,563.97 L460.10,564.08 L458.59,564.17 L457.08,564.25 L455.56,564.31 L454.05,564.35 L452.53,564.37 L451.01,564.38 L449.50,564.36 L447.98,564.33 L446.46,564.29 L444.94,564.22 L443.42,564.14 L441.91,564.05 L440.39,563.93 L438.87,563.80 L437.36,563.65 L435.85,563.49 L434.34,563.31 L432.83,563.11 L431.32,562.90 L429.82,562.67 L428.32,562.43 L426.82,562.16 L425.33,561.89 L423.84,561.60 L422.36,561.29 L420.88,560.96 L419.40,560.62 L417.93,560.27 L416.47,559.90 L415.01,559.52 L413.55,559.12 L412.11,558.70 L410.67,558.27 L409.23,557.83 L407.80,557.37 L406.38,556.90 L404.96,556.42 L403.55,555.92 L402.14,555.41 L400.74,554.90 L399.34,554.37 L397.94,553.83 L396.55,553.28 L395.16,552.72 L393.78,552.15 L392.40,551.58 L391.02,550.99 L389.65,550.40 L388.27,549.80 L386.90,549.20 L385.54,548.59 L384.17,547.97 L382.81,547.35 L381.44,546.73 L380.08,546.10 L378.72,545.47 L377.36,544.83 L376.00,544.19 L374.64,543.56 L373.28,542.91 L371.92,542.27 L370.56,541.63 L369.20,540.99 L367.84,540.35 L366.47,539.71 L365.11,539.07 L363.74,538.43 L362.37,537.79 L361.01,537.15 L359.64,536.51 L358.28,535.87 L356.91,535.23 L355.55,534.58 L354.19,533.93 L352.84,533.27 L351.48,532.61 L350.14,531.94 L348.79,531.26 L347.45,530.57 L346.12,529.87 L344.79,529.17 L343.47,528.45 L342.16,527.72 L340.86,526.99 L339.56,526.23 L338.27,525.47 L336.99,524.68 L335.72,523.89 L334.46,523.08 L333.21,522.25 L331.98,521.40 L330.75,520.53 L329.54,519.65 L328.34,518.74 L327.15,517.82 L325.98,516.87 L324.82,515.90 L323.67,514.91 L322.54,513.89" fill="none" stroke="#4d4d4d" stroke-width="1" stroke-linejoin="round"/>
<path d="M230.08,459.43 L231.53,459.98 L232.98,460.53 L234.41,461.10 L235.84,461.68 L237.27,462.28 L238.69,462.88 L240.11,463.49 L241.52,464.11 L242.93,464.74 L244.33,465.37 L245.73,466.02 L247.12,466.68 L248.51,467.34 L249.89,468.01 L251.27,468.69 L252.65,469.38 L254.02,470.07 L255.39,470.77 L256.76,471.48 L258.12,472.19 L259.48,472.91 L260.83,473.64 L262.19,474.37 L263.54,475.11 L264.88,475.85 L266.23,476.59 L267.57,477.34 L268.91,478.10 L270.25,478.86 L271.59,479.62 L272.92,480.39 L274.26,481.16 L275.59,481.93 L276.92,482.70 L278.25,483.48 L279.58,484.26 L280.90,485.04 L282.23,485.83 L283.55,486.61 L284.88,487.40 L286.20,488.18 L287.53,488.97 L288.85,489.76 L290.17,490.55 L291.50,491.34 L292.82,492.12 L294.15,492.91 L295.47,493.70 L296.80,494.48 L298.12,495.26 L299.45,496.05 L300.78,496.83 L302.11,497.60 L303.44,498.38 L304.77,499.15 L306.11,499.92 L307.44,500.68 L308.78,501.45 L310.12,502.20 L311.46,502.96 L312.80,503.71 L314.15,504.45 L315.50,505.20 L316.85,505.93 L318.21,506.66 L319.56,507.39" fill="none" stroke="#4d4d4d" stroke-width="1" stroke-linejoin="round"/>
<path d="M319.5,507.5 Q322.3,509.2 322.3,511.5 L322.3,513.8 L311.4,532.8" fill="none" stroke="#4d4d4d" stroke-width="1" stroke-linejoin="round"/>
<line x1="298" y1="288.9" x2="362" y2="288.7" stroke="#4d4d4d" stroke-width="1" />
<path d="M311.41,532.72 L312.76,533.44 L314.11,534.15 L315.47,534.85 L316.84,535.53 L318.21,536.22 L319.58,536.89 L320.96,537.55 L322.34,538.20 L323.72,538.85 L325.11,539.48 L326.50,540.11 L327.89,540.72 L329.29,541.33 L330.69,541.93 L332.10,542.52 L333.51,543.10 L334.92,543.68 L336.33,544.24 L337.75,544.79 L339.18,545.34 L340.60,545.88 L342.03,546.40 L343.46,546.92 L344.89,547.43 L346.33,547.93 L347.77,548.43 L349.22,548.91 L350.66,549.39 L352.11,549.85 L353.56,550.31 L355.02,550.76 L356.47,551.20 L357.93,551.63 L359.39,552.05 L360.86,552.47 L362.32,552.87 L363.79,553.27 L365.26,553.66 L366.74,554.03 L368.21,554.40 L369.69,554.77 L371.17,555.12 L372.65,555.46 L374.14,555.80 L375.63,556.13 L377.11,556.44 L378.60,556.75 L380.10,557.05 L381.59,557.35 L383.08,557.63 L384.58,557.91 L386.08,558.17 L387.58,558.43 L389.08,558.68 L390.59,558.92 L392.09,559.15 L393.60,559.38 L395.10,559.59 L396.61,559.80 L398.12,560.00 L399.63,560.19 L401.15,560.37 L402.66,560.55 L404.17,560.71 L405.69,560.87 L407.21,561.02 L408.72,561.16 L410.24,561.29 L411.76,561.41 L413.28,561.52 L414.80,561.63 L416.32,561.73 L417.84,561.82 L419.36,561.90 L420.89,561.97 L422.41,562.04 L423.93,562.09 L425.46,562.14 L426.98,562.18 L428.50,562.21 L430.03,562.23" fill="none" stroke="#4d4d4d" stroke-width="1" stroke-linejoin="round"/>
<path d="M241.23,310.84 L242.69,310.36 L244.14,309.91 L245.60,309.48 L247.06,309.08 L248.52,308.69 L249.99,308.33 L251.45,307.99 L252.92,307.67 L254.38,307.37 L255.85,307.10 L257.32,306.84 L258.79,306.60 L260.27,306.39 L261.74,306.19 L263.21,306.01 L264.69,305.85 L266.17,305.71 L267.64,305.58 L269.12,305.48 L270.60,305.39 L272.08,305.32 L273.56,305.26 L275.05,305.22 L276.53,305.20 L278.01,305.19 L279.50,305.20 L280.98,305.23 L282.46,305.26 L283.95,305.32 L285.44,305.38 L286.92,305.46 L288.41,305.56 L289.89,305.67 L291.38,305.78 L292.87,305.92 L294.35,306.06 L295.84,306.22 L297.33,306.38 L298.82,306.56 L300.30,306.75 L301.79,306.95 L303.28,307.16 L304.76,307.38 L306.25,307.61 L307.73,307.85 L309.22,308.09 L310.70,308.35 L312.19,308.61 L313.67,308.88 L315.16,309.16 L316.64,309.44 L318.12,309.74 L319.60,310.04 L321.08,310.34 L322.56,310.65 L324.04,310.97 L325.52,311.29 L327.00,311.61 L328.47,311.94 L329.95,312.28 L331.42,312.62 L332.89,312.96 L334.37,313.30 L335.84,313.65 L337.31,314.00 L338.77,314.36 L340.24,314.72 L341.71,315.08 L343.17,315.44 L344.63,315.81 L346.09,316.19 L347.55,316.56 L349.01,316.94 L350.47,317.33 L351.92,317.72 L353.38,318.11 L354.83,318.51 L356.28,318.91 L357.73,319.31 L359.17,319.72 L360.62,320.14 L362.06,320.55 L363.51,320.98 L364.95,321.41 L366.38,321.84 L367.82,322.28 L369.25,322.72 L370.69,323.17 L372.12,323.62 L373.55,324.08 L374.97,324.54 L376.40,325.01 L377.82,325.48 L379.24,325.96 L380.66,326.45 L382.08,326.94 L383.49,327.43 L384.90,327.93 L386.31,328.44 L387.72,328.95 L389.13,329.47 L390.53,330.00 L391.93,330.53 L393.33,331.07 L394.72,331.61 L396.12,332.16 L397.51,332.72 L398.90,333.28 L400.28,333.85 L401.67,334.42 L403.05,335.01 L404.43,335.60 L405.80,336.19 L407.17,336.79 L408.55,337.40 L409.91,338.02 L411.28,338.64 L412.64,339.27 L414.00,339.91 L415.36,340.56 L416.71,341.21 L418.06,341.87 L419.41,342.54 L420.76,343.21 L422.10,343.90 L423.44,344.59 L424.77,345.29 L426.11,345.99 L427.44,346.71 L428.76,347.43 L430.09,348.16 L431.41,348.90 L432.73,349.65 L434.04,350.40 L435.35,351.17 L436.65,351.94 L437.94,352.73 L439.23,353.52 L440.51,354.33 L441.78,355.15 L443.04,355.99 L444.29,356.83 L445.52,357.69 L446.75,358.56 L447.96,359.45 L449.16,360.35 L450.34,361.27 L451.51,362.20 L452.66,363.15 L453.80,364.12 L454.91,365.10 L456.01,366.11 L457.09,367.13 L458.14,368.17 L459.18,369.22 L460.20,370.30 L461.19,371.40 L462.15,372.52 L463.10,373.66 L464.02,374.82 L464.91,376.01 L465.79,377.21 L466.63,378.43 L467.46,379.66 L468.26,380.92 L469.04,382.19 L469.79,383.48 L470.52,384.79 L471.23,386.11 L471.91,387.44 L472.57,388.79 L473.21,390.15 L473.82,391.53 L474.42,392.92 L474.98,394.32 L475.53,395.73 L476.06,397.15 L476.56,398.59 L477.04,400.03 L477.49,401.48 L477.93,402.94 L478.34,404.41 L478.73,405.88 L479.10,407.36 L479.45,408.85 L479.78,410.34 L480.08,411.84 L480.36,413.34 L480.62,414.85 L480.86,416.35 L481.08,417.87 L481.28,419.38 L481.45,420.90 L481.61,422.42 L481.74,423.94 L481.85,425.46 L481.94,426.98 L482.00,428.50 L482.05,430.02 L482.07,431.54 L482.07,433.06 L482.05,434.58 L482.00,436.10 L481.94,437.62 L481.85,439.13 L481.74,440.64 L481.61,442.14 L481.45,443.65 L481.27,445.14 L481.07,446.64 L480.85,448.13 L480.60,449.61 L480.34,451.09 L480.05,452.56 L479.73,454.02 L479.40,455.48 L479.04,456.93 L478.66,458.37 L478.25,459.81 L477.82,461.24 L477.37,462.65 L476.90,464.06 L476.40,465.46 L475.88,466.85 L475.34,468.23 L474.77,469.59 L474.18,470.95 L473.57,472.29 L472.93,473.62 L472.27,474.94 L471.59,476.25 L470.88,477.54 L470.15,478.82 L469.40,480.09 L468.62,481.34 L467.82,482.58 L466.99,483.80 L466.14,485.00 L465.27,486.19 L464.37,487.36 L463.45,488.52 L462.51,489.66 L461.54,490.78 L460.54,491.88 L459.53,492.97 L458.49,494.04 L457.43,495.09 L456.35,496.12 L455.25,497.14 L454.13,498.14 L452.99,499.12 L451.83,500.09 L450.65,501.04 L449.46,501.97 L448.25,502.89 L447.02,503.79 L445.78,504.68 L444.53,505.55 L443.26,506.40 L441.98,507.24 L440.68,508.06 L439.38,508.87 L438.06,509.66 L436.73,510.43 L435.40,511.20 L434.05,511.94 L432.70,512.68 L431.33,513.39 L429.96,514.10 L428.59,514.78 L427.20,515.46 L425.81,516.12 L424.42,516.76 L423.02,517.39 L421.62,518.00 L420.21,518.60 L418.80,519.18 L417.38,519.74 L415.96,520.28 L414.53,520.80 L413.10,521.30 L411.67,521.78 L410.23,522.24 L408.79,522.68 L407.35,523.10 L405.90,523.49 L404.46,523.86 L403.01,524.21 L401.55,524.53 L400.10,524.83 L398.64,525.10 L397.18,525.35 L395.72,525.56 L394.26,525.76 L392.80,525.92 L391.34,526.05 L389.87,526.16 L388.41,526.24 L386.94,526.28 L385.48,526.30 L384.01,526.28 L382.55,526.23 L381.08,526.15 L379.62,526.04 L378.16,525.89 L376.70,525.72 L375.24,525.51 L373.78,525.28 L372.32,525.01 L370.87,524.72 L369.41,524.40 L367.96,524.06 L366.51,523.69 L365.07,523.30 L363.62,522.88 L362.18,522.44 L360.74,521.98 L359.31,521.50 L357.88,521.00 L356.45,520.48 L355.02,519.95 L353.60,519.39 L352.19,518.82 L350.78,518.23 L349.37,517.63 L347.97,517.02 L346.57,516.39 L345.18,515.75 L343.79,515.09 L342.41,514.43 L341.03,513.76 L339.66,513.08 L338.29,512.39 L336.94,511.69 L335.58,510.99 L334.24,510.28 L332.90,509.56 L331.56,508.84 L330.23,508.11 L328.91,507.38 L327.59,506.64 L326.28,505.89 L324.98,505.14 L323.68,504.39 L322.38,503.62 L321.09,502.85 L319.81,502.08 L318.53,501.30 L317.25,500.51 L315.98,499.72 L314.71,498.93 L313.45,498.12 L312.20,497.31 L310.94,496.50 L309.69,495.68 L308.45,494.86 L307.21,494.03 L305.97,493.20 L304.74,492.36 L303.51,491.51 L302.29,490.66 L301.07,489.81 L299.85,488.95 L298.63,488.08 L297.42,487.22 L296.21,486.34 L295.01,485.46 L293.80,484.58 L292.60,483.69 L291.41,482.80 L290.21,481.90 L289.02,481.00 L287.83,480.09 L286.64,479.18 L285.46,478.26 L284.28,477.34 L283.10,476.42 L281.92,475.49 L280.75,474.56 L279.58,473.62 L278.41,472.67 L277.24,471.72 L276.08,470.77 L274.92,469.81 L273.77,468.85 L272.62,467.89 L271.47,466.91 L270.32,465.94 L269.18,464.96 L268.05,463.97 L266.91,462.98 L265.78,461.99 L264.65,460.99 L263.53,459.98 L262.41,458.97 L261.30,457.96 L260.19,456.94 L259.08,455.92 L257.98,454.89 L256.88,453.86 L255.78,452.82 L254.69,451.78 L253.61,450.73 L252.52,449.68 L251.45,448.62 L250.37,447.56 L249.31,446.50 L248.24,445.43 L247.19,444.35 L246.13,443.27 L245.08,442.18 L244.04,441.09 L243.00,440.00 L241.97,438.90 L240.94,437.79 L239.92,436.68 L238.91,435.56 L237.90,434.44 L236.90,433.31 L235.91,432.17 L234.93,431.03 L233.95,429.89 L232.98,428.74 L232.02,427.58 L231.07,426.41 L230.13,425.24 L229.20,424.06 L228.27,422.88 L227.36,421.69 L226.45,420.49 L225.56,419.29 L224.67,418.07 L223.80,416.86 L222.94,415.63 L222.09,414.40 L221.25,413.16 L220.42,411.91 L219.60,410.65 L218.80,409.39 L218.01,408.12 L217.23,406.84 L216.46,405.56 L215.71,404.26 L214.97,402.96 L214.24,401.65 L213.53,400.33 L212.83,399.00 L212.15,397.67 L211.48,396.32 L210.83,394.97 L210.19,393.61 L209.57,392.24 L208.96,390.86 L208.37,389.47 L207.79,388.07 L207.23,386.66 L206.69,385.25 L206.17,383.82 L205.66,382.38 L205.17,380.94 L204.70,379.48 L204.25,378.02 L203.81,376.55 L203.40,375.06 L203.01,373.58 L202.64,372.08 L202.30,370.58 L201.99,369.08 L201.71,367.58 L201.45,366.07 L201.23,364.56 L201.05,363.06 L200.90,361.55 L200.79,360.05 L200.71,358.55 L200.68,357.06 L200.69,355.57 L200.74,354.09 L200.84,352.62 L200.98,351.15 L201.18,349.70 L201.42,348.26 L201.71,346.83 L202.06,345.41 L202.47,344.01 L202.93,342.62 L203.45,341.25 L204.02,339.90 L204.65,338.57 L205.33,337.26 L206.06,335.97 L206.84,334.71 L207.66,333.47 L208.53,332.27 L209.44,331.09 L210.39,329.94 L211.38,328.83 L212.40,327.74 L213.46,326.69 L214.56,325.66 L215.69,324.66 L216.84,323.69 L218.03,322.75 L219.25,321.84 L220.49,320.95 L221.76,320.09 L223.04,319.26 L224.36,318.46 L225.69,317.68 L227.04,316.93 L228.41,316.21 L229.79,315.51 L231.19,314.84 L232.60,314.20 L234.02,313.58 L235.45,312.98 L236.89,312.41 L238.33,311.86 L239.78,311.34 L241.23,310.84Z" fill="none" stroke="#4d4d4d" stroke-width="1" stroke-linejoin="round"/>
<line x1="183.5" y1="324.1" x2="592.6" y2="539.9" stroke="#4d4d4d" stroke-width="1" stroke-dasharray="40.5 5.5 1.3 5.5" stroke-dashoffset="0.4"/>
<line x1="440.3" y1="331.8" x2="335.8" y2="531.7" stroke="#4d4d4d" stroke-width="1" stroke-dasharray="35.5 5.5 1.3 5.3"/>
<circle cx="216.8" cy="341.4" r="6.3" fill="none" stroke="#777" stroke-width="0.8"/>
<path d="M216.8,341.4 L216.8,335 A6.4,6.4 0 0 1 223.2,341.4 Z" fill="#111"/>
<path d="M216.8,341.4 L216.8,347.8 A6.4,6.4 0 0 1 210.4,341.4 Z" fill="#111"/>
<line x1="216.9" y1="335" x2="216.9" y2="351.7" stroke="#4d4d4d" stroke-width="1" />
<line x1="217.2" y1="341.7" x2="247.3" y2="397" stroke="#4d4d4d" stroke-width="1" />
<polygon points="217.90,341.32 224.30,350.36 221.74,350.04 220.61,352.37 216.50,342.08" fill="#111"/>
<line x1="245.7" y1="396.9" x2="342.9" y2="396.9" stroke="#4d4d4d" stroke-width="1" />
<rect x="247" y="371" width="96" height="18.5" fill="#fff"/>
<text id="sliv" style="stroke-width:0.1px" x="0" y="0" font-size="15.6" fill="#1a1a1a" textLength="91.09" lengthAdjust="spacing" transform="translate(249.40,385.30) scale(0.97,1)">Слив ванны</text>
<text id="n1" x="0" y="0" font-size="15.5" fill="#1a1a1a" textLength="461.77" lengthAdjust="spacing" transform="translate(112.20,715.90)">1. <tspan font-size='10' dy='-3.5'>*</tspan><tspan dy='3.5'>Высота подводки эл. питания от пола - 400 мм, подключе-</tspan></text>
<text id="n2" x="0" y="0" font-size="15.5" fill="#1a1a1a" textLength="446.69" lengthAdjust="spacing" transform="translate(124.70,736.10)">ние - 3-х жильным кабелем с двойной изоляцией сечением</text>
<text id="n3" x="0" y="0" font-size="15.5" fill="#1a1a1a" textLength="212.25" lengthAdjust="spacing" transform="translate(124.70,756.30)">не менее 2,5 кв.мм по меди.</text>
<text id="n4" x="0" y="0" font-size="15.5" fill="#1a1a1a" textLength="422.60" lengthAdjust="spacing" transform="translate(111.20,776.50)">2. <tspan font-size='10' dy='-3.5'>**</tspan><tspan dy='3.5'>Высота подводки гор. и хол. воды от пола - 400 мм.</tspan></text>
<text id="n5" x="0" y="0" font-size="15.5" fill="#1a1a1a" textLength="471.16" lengthAdjust="spacing" transform="translate(111.20,796.70)">3. <tspan font-size='10' dy='-3.5' fill='#d0d0d0' style='stroke:none'>*</tspan><tspan dy='3.5'>На схеме показано выпускное канализационное отверстие</tspan></text>
<text id="n6" x="0" y="0" font-size="15.5" fill="#1a1a1a" textLength="72.04" lengthAdjust="spacing" transform="translate(129.40,815.90)">на ванне.</text>
<text id="n7" x="0" y="0" font-size="15.5" fill="#1a1a1a" textLength="505.17" lengthAdjust="spacing" transform="translate(111.20,836.10)">4. На схеме показано подключение воды при установке смесителя</text>
<text id="n8" x="0" y="0" font-size="15.5" fill="#1a1a1a" textLength="110.67" lengthAdjust="spacing" transform="translate(120.10,856.30)">на борт ванны.</text>
</svg></body></html>
